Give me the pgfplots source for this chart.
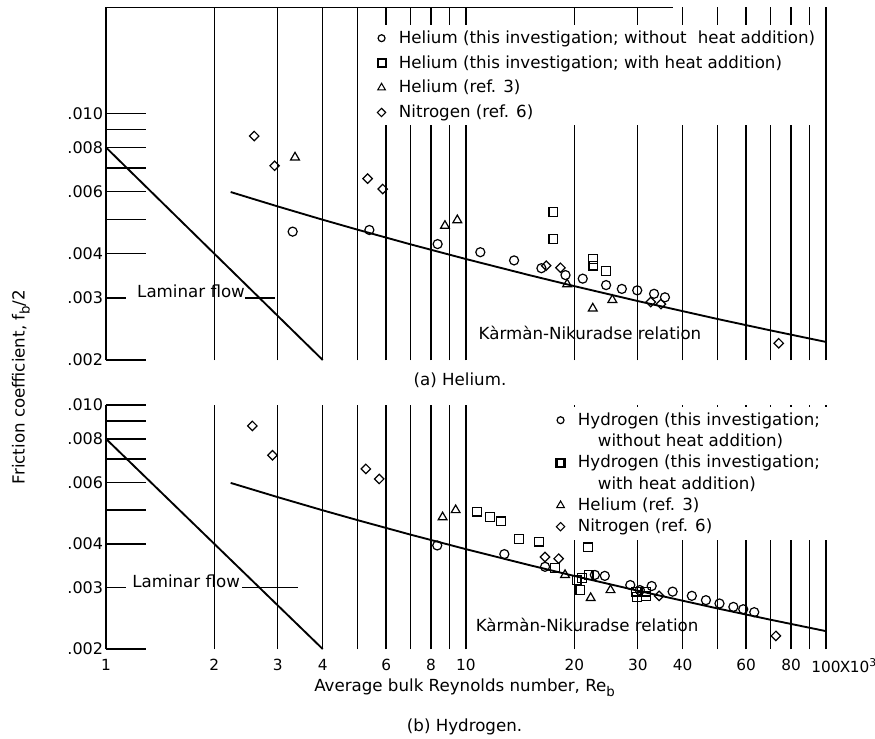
\documentclass[border=0pt]{standalone}
\usepackage{fontspec}
\setmainfont{DejaVu Sans}
\usepackage{pgfplots}
\pgfplotsset{compat=1.18}
\newcommand{\sub}[1]{\raisebox{-0.55ex}{\fontsize{10}{10}\selectfont #1}}
\pgfplotsset{
  pcirc/.style={only marks, mark=o, mark size=3.4pt, line width=0.9pt},
  psqu/.style={only marks, mark=square, mark size=3.3pt, line width=0.9pt},
  ptri/.style={only marks, mark=triangle, mark size=3.8pt, line width=0.9pt},
  pdia/.style={only marks, mark=square, mark size=2.5pt, mark options={rotate=45}, line width=0.9pt},
  lcirc/.style={legend image code/.code={\path[draw=none] (0pt,0pt) -- (17pt,0pt); \draw[line width=0.9pt, solid] plot[mark=o, mark size=2.6pt] coordinates {(6pt,0pt)};}},
  lsqu/.style={legend image code/.code={\path[draw=none] (0pt,0pt) -- (17pt,0pt); \draw[line width=1.6pt, solid] plot[mark=square, mark size=3pt] coordinates {(6pt,0pt)};}},
  ltri/.style={legend image code/.code={\path[draw=none] (0pt,0pt) -- (17pt,0pt); \draw[line width=0.8pt, solid] plot[mark=triangle, mark size=3.3pt] coordinates {(6pt,0pt)};}},
  ldia/.style={legend image code/.code={\path[draw=none] (0pt,0pt) -- (17pt,0pt); \draw[line width=0.8pt, solid] plot[mark=square, mark size=2.2pt, mark options={rotate=45}] coordinates {(6pt,0pt)};}},
}
\begin{document}
\fontsize{12.5}{15}\selectfont
\begin{tikzpicture}
\useasboundingbox (-79.5pt,-67.5pt) rectangle (576.75pt,486.75pt);
% ---------------- Top panel (a) Helium ----------------
\begin{axis}[
    scale only axis, width=540pt, height=264.75pt,
    xmode=log, ymode=log, xmin=1, xmax=100, ymin=0.002, ymax=0.02,
    at={(0pt,216.75pt)}, anchor=south west,
    axis y line*=left, axis x line*=bottom,
    x axis line style={draw=none},
    y axis line style={line width=1pt},
    /pgf/number format/assume math mode=true,
    xtick={1,2,3,4,6,8,10,20,30,40,60,80,100},
    minor xtick={5,7,9,50,70,90},
    xticklabels={},
    xmajorgrids, xminorgrids,
    major grid style={black, line width=1pt},
    minor grid style={black, line width=1pt},
    ytick={0.002,0.004,0.006,0.008,0.010},
    yticklabels={.002,.004,.006,.008,.010},
    minor ytick={0.005,0.007,0.009},
    extra y ticks={0.003}, extra y tick labels={.003},
    extra y tick style={major tick length=15pt},
    tick align=inside,
    major tick length=30pt, minor tick length=30pt,
    tick style={black, line width=1pt},
    yticklabel style={inner xsep=2pt, font=\fontsize{12}{14}\selectfont},
    legend cell align=left,
    legend style={draw=none, fill=white, at={(rel axis cs:0.3657,0.9490)}, anchor=north west, row sep=3.2pt}]
\addlegendimage{lcirc}
\addlegendimage{lsqu}
\addlegendimage{ltri}
\addlegendimage{ldia}
\legend{Helium (this investigation; without\hspace{0.35em} heat addition),
        Helium (this investigation; with heat addition),
        Helium (ref. 3),
        Nitrogen (ref. 6)}
% laminar flow
\addplot[black, line width=1.4pt, forget plot] coordinates {(1,0.008) (4,0.002)};
% Karman-Nikuradse
\addplot[black, line width=1.4pt, forget plot] table {
x y
2.22 0.005982
3 0.005446
4 0.004993
5 0.004679
7 0.004255
10 0.003864
15 0.003479
20 0.003238
30 0.002938
50 0.002613
70 0.002427
100 0.00225
};
\addplot[pcirc, forget plot] table {
x y
3.30 0.00462
5.39 0.00467
8.34 0.00426
10.96 0.00404
13.6 0.00383
16.2 0.00364
18.9 0.00348
21.1 0.00340
24.5 0.00326
27.1 0.00318
29.9 0.00315
33.3 0.00308
35.7 0.00301
};
\addplot[psqu, forget plot] table {
x y
17.5 0.00526
17.5 0.00440
22.5 0.00386
22.6 0.00370
24.5 0.00357
};
\addplot[ptri, forget plot] table {
x y
3.35 0.00750
8.74 0.00480
9.46 0.00498
19.1 0.00328
22.5 0.00280
25.5 0.00296
};
\addplot[pdia, forget plot] table {
x y
2.58 0.00862
2.94 0.00710
5.33 0.00653
5.87 0.00610
16.7 0.00370
18.3 0.00365
32.6 0.00292
34.8 0.00288
73.9 0.00223
};
\draw[line width=1pt] (axis cs:1,0.02) -- (axis cs:37.6,0.02);
\node[anchor=base west, inner sep=0pt] at (axis cs:1.219,0.003) {Laminar flow};
\draw[line width=1pt] (axis cs:2.43,0.003) -- (axis cs:2.95,0.003);
\node at (axis cs:22.1,0.00238) {Kàrmàn-Nikuradse relation};
\end{axis}
% ---------------- Bottom panel (b) Hydrogen ----------------
\begin{axis}[
    scale only axis, width=540pt, height=183pt,
    xmode=log, ymode=log, xmin=1, xmax=100, ymin=0.002, ymax=0.010,
    at={(0pt,0pt)}, anchor=south west,
    axis y line*=left, axis x line*=bottom,
    x axis line style={draw=none},
    y axis line style={line width=1pt},
    /pgf/number format/assume math mode=true,
    xtick={1,2,3,4,6,8,10,20,30,40,60,80,100},
    minor xtick={5,7,9,50,70,90},
    xticklabels={1,2,3,4,6,8,10,20,30,40,60,80,100\rlap{\kern-0.6pt X\kern-0.4pt 10\textsuperscript{3}}},
    xticklabel style={yshift=-3pt, font=\fontsize{11.5}{13}\selectfont},
    xmajorgrids, xminorgrids,
    major grid style={black, line width=1pt},
    minor grid style={black, line width=1pt},
    ytick={0.002,0.004,0.006,0.008,0.010},
    yticklabels={.002,.004,.006,.008,.010},
    minor ytick={0.005,0.007,0.009},
    extra y ticks={0.003}, extra y tick labels={.003},
    extra y tick style={major tick length=15pt},
    tick align=inside,
    major tick length=30pt, minor tick length=30pt,
    tick style={black, line width=1pt},
    yticklabel style={inner xsep=2pt, font=\fontsize{12}{14}\selectfont},
    legend cell align=left,
    legend style={draw=none, fill=white, at={(rel axis cs:0.6143,0.9918)}, anchor=north west, row sep=0.6pt}]
\addlegendimage{lcirc}
\addlegendimage{empty legend}
\addlegendimage{lsqu}
\addlegendimage{empty legend}
\addlegendimage{ltri}
\addlegendimage{ldia}
\legend{Hydrogen (this investigation;,
        \hspace*{15pt}without heat addition),
        Hydrogen (this investigation;,
        \hspace*{15pt}with heat addition),
        Helium (ref. 3),
        Nitrogen (ref. 6)}
\addplot[black, line width=1.4pt, forget plot] coordinates {(1,0.008) (4,0.002)};
\addplot[black, line width=1.4pt, forget plot] table {
x y
2.22 0.005982
3 0.005446
4 0.004993
5 0.004679
7 0.004255
10 0.003864
15 0.003479
20 0.003238
30 0.002938
50 0.002613
70 0.002427
100 0.00225
};
\addplot[pcirc, forget plot] table {
x y
8.32 0.00396
12.78 0.00374
16.58 0.00344
22.8 0.00326
24.3 0.00324
28.6 0.00305
30.4 0.00295
32.8 0.00303
37.5 0.00292
42.4 0.00284
46.4 0.00276
50.6 0.00270
55.3 0.00264
58.9 0.00260
63.2 0.00255
};
\addplot[psqu, forget plot] table {
x y
10.73 0.00495
11.68 0.00477
12.53 0.00464
14.06 0.00414
15.98 0.00406
17.67 0.00341
20.3 0.00315
21.0 0.00319
20.8 0.00295
21.8 0.00391
21.9 0.00326
29.7 0.00292
29.8 0.00282
31.6 0.00283
31.7 0.00292
};
\addplot[ptri, forget plot] table {
x y
8.61 0.00477
9.36 0.00500
18.84 0.00326
22.2 0.00280
25.2 0.00295
};
\addplot[pdia, forget plot] table {
x y
2.55 0.00871
2.90 0.00718
5.27 0.00656
5.74 0.00614
16.58 0.00367
18.09 0.00363
34.4 0.00284
72.6 0.00218
};
\node[anchor=base west, inner sep=0pt] at (axis cs:1.181,0.003) {Laminar flow};
\draw[line width=1pt] (axis cs:2.39,0.003) -- (axis cs:3.41,0.003);
\node at (axis cs:21.7,0.00234) {Kàrmàn-Nikuradse relation};
\end{axis}
% labels
\node at (265.5pt,201.75pt) {(a) Helium.};
\node at (268.9pt,-58.5pt) {(b) Hydrogen.};
\node at (268.9pt,-29.25pt) {Average bulk Reynolds number, Re\sub{b}};
\node[rotate=90] at (-63.75pt,196.5pt) {Friction coefficient, f\sub{b}/2};
\end{tikzpicture}
\end{document}
